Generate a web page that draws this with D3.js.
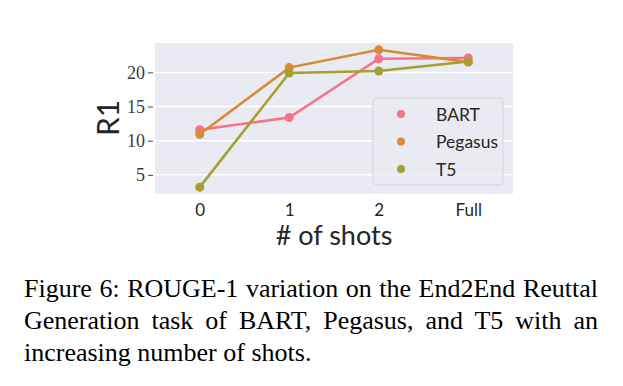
<!DOCTYPE html>
<html>
<head>
<meta charset="utf-8">
<script src="https://cdn.jsdelivr.net/npm/d3@7"></script>
<style>
  body { margin: 0; background: #fff; }
  svg { display: block; }
</style>
</head>
<body>
<svg width="623" height="386"></svg>
<script>
const shots = ["0", "1", "2", "Full"];
const models = ["BART", "Pegasus", "T5"];
const bart = [11.6, 13.4, 22.0, 22.1];
const pegasus = [10.95, 20.7, 23.3, 21.5];
const t5 = [3.2, 19.9, 20.2, 21.6];
const yTicks = [5, 10, 15, 20];
const colors = ["#f77189", "#d58c32", "#a4a031"];
const captionLines = [
  "Figure 6: ROUGE-1 variation on the End2End Reuttal",
  "Generation task of BART, Pegasus, and T5 with an",
  "increasing number of shots."
];

const series = models.map((m, i) => ({ name: m, values: [bart, pegasus, t5][i], color: colors[i] }));

const svg = d3.select("svg");
const plot = { left: 155, right: 513, top: 43, bottom: 194 };

const x = d3.scalePoint()
    .domain(shots)
    .range([plot.left, plot.right])
    .padding(0.5);

const y = d3.scaleLinear()
    .domain([2.2, 24.3])
    .range([plot.bottom, plot.top]);

// axes background + grid
svg.append("rect")
    .attr("x", plot.left).attr("y", plot.top)
    .attr("width", plot.right - plot.left).attr("height", plot.bottom - plot.top)
    .attr("fill", "#eaeaf2");

svg.append("g").selectAll("line")
    .data(yTicks)
    .join("line")
    .attr("x1", plot.left).attr("x2", plot.right)
    .attr("y1", d => y(d)).attr("y2", d => y(d))
    .attr("stroke", "#fff").attr("stroke-width", 1.5);

// y axis
const yAxis = svg.append("g")
    .attr("transform", `translate(${plot.left - 2},0)`)
    .call(d3.axisLeft(y).tickValues(yTicks).tickSize(5).tickPadding(3));
yAxis.select(".domain").remove();
yAxis.selectAll(".tick line").attr("stroke", "#444").attr("stroke-width", 1);
yAxis.selectAll("text")
    .attr("fill", "#3a3a48")
    .style("font-family", "'Liberation Serif', serif")
    .style("font-size", "18px");

// x axis
const xAxis = svg.append("g")
    .attr("transform", `translate(0,${plot.bottom})`)
    .call(d3.axisBottom(x).tickSize(0).tickPadding(10));
xAxis.select(".domain").remove();
xAxis.selectAll("text")
    .attr("fill", "#262626")
    .style("font-family", "Lato, sans-serif")
    .style("font-size", "17px");

svg.append("text")
    .attr("x", (plot.left + plot.right) / 2).attr("y", 245)
    .attr("text-anchor", "middle")
    .attr("fill", "#262626")
    .style("font-family", "Lato, sans-serif")
    .style("font-size", "27px")
    .text("# of shots");

svg.append("text")
    .attr("transform", `translate(119,118) rotate(-90)`)
    .attr("text-anchor", "middle")
    .attr("fill", "#262626")
    .style("font-family", "Lato, sans-serif")
    .style("font-size", "30px")
    .text("R1");

// lines and points
const line = d3.line()
    .x((d, i) => x(shots[i]))
    .y(d => y(d));

series.forEach(s => {
    const g = svg.append("g");
    g.append("path")
        .datum(s.values)
        .attr("d", line)
        .attr("fill", "none")
        .attr("stroke", s.color)
        .attr("stroke-width", 2.6);
    g.selectAll("circle")
        .data(s.values)
        .join("circle")
        .attr("cx", (d, i) => x(shots[i]))
        .attr("cy", d => y(d))
        .attr("r", 4.5)
        .attr("fill", s.color);
});

// legend
const legend = svg.append("g").attr("transform", "translate(373,98)");
legend.append("rect")
    .attr("width", 130).attr("height", 87)
    .attr("rx", 4)
    .attr("fill", "#eaeaf2").attr("fill-opacity", 0.8)
    .attr("stroke", "#d2d2da").attr("stroke-width", 1);
const items = legend.selectAll(".item")
    .data(series)
    .join("g")
    .attr("class", "item")
    .attr("transform", (d, i) => `translate(0,${16 + i * 27.5})`);
items.append("circle")
    .attr("cx", 28).attr("cy", 0).attr("r", 4)
    .attr("fill", d => d.color);
items.append("text")
    .attr("x", 63).attr("y", 6.5)
    .attr("fill", "#262626")
    .style("font-family", "Lato, sans-serif")
    .style("font-size", "17.5px")
    .text(d => d.name);

// caption, justified
const capLeft = 24, capRight = 598;
captionLines.forEach((txt, i) => {
    const t = svg.append("text")
        .attr("x", capLeft).attr("y", 297 + i * 32)
        .attr("fill", "#000")
        .style("font-family", "'Liberation Serif', 'Times New Roman', serif")
        .style("font-size", "26px")
        .text(txt);
    if (i < captionLines.length - 1) {
        const natural = t.node().getComputedTextLength();
        const spaces = txt.split(" ").length - 1;
        t.style("word-spacing", ((capRight - capLeft - natural) / spaces) + "px");
    }
});
</script>
</body>
</html>
